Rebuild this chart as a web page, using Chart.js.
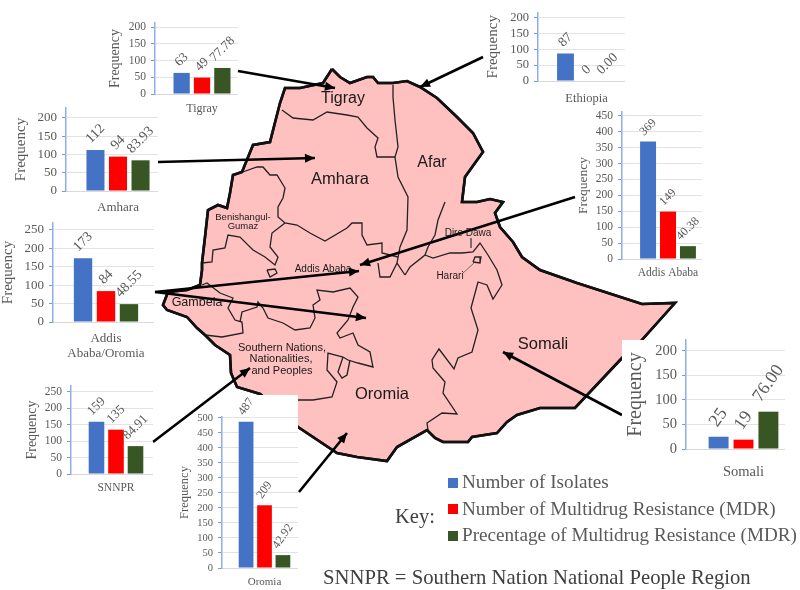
<!DOCTYPE html>
<html>
<head>
<meta charset="utf-8">
<title>Multidrug resistance by region</title>
<script src="https://cdn.jsdelivr.net/npm/chart.js@4"></script>
<style>
  html, body { margin: 0; padding: 0; background: #fff; }
  #page { position: relative; width: 800px; height: 590px; overflow: hidden; }
  #page > div { position: absolute; }
  .patch { background: #fff; }
  .inset { overflow: hidden; }
  .keyText { font-family: "Liberation Serif", serif; font-size: 19.15px; color: #595959; white-space: nowrap; line-height: 22px; }
  .swatch { width: 10px; height: 10px; }
</style>
</head>
<body>
<div id="page">
  <canvas id="mapChart" width="800" height="590" style="position:absolute;left:0;top:0"></canvas>
  <div class="patch" style="left:225px;top:395px;width:73px;height:195px"></div>
  <div class="patch" style="left:622px;top:340px;width:178px;height:135px"></div>
  <div class="keyText" style="left:395px;top:505px;font-size:20.5px;color:#404040">Key:</div>
  <div class="swatch" style="left:448px;top:478px;background:#4472C4"></div>
  <div class="swatch" style="left:448px;top:504px;background:#FF0000"></div>
  <div class="swatch" style="left:448px;top:531px;background:#375623"></div>
  <div class="keyText" style="left:462px;top:471px">Number of Isolates</div>
  <div class="keyText" style="left:462px;top:498px">Number of Multidrug Resistance (MDR)</div>
  <div class="keyText" style="left:462px;top:524px">Precentage of Multidrug Resistance (MDR)</div>
  <div class="keyText" style="left:323px;top:566px;font-size:20.7px;color:#404040">SNNPR = Southern Nation National People Region</div>
</div>
<script>
// Values
var regions = ['Tigray', 'Amhara', ['Addis', 'Ababa/Oromia'], 'SNNPR', 'Oromia', 'Ethiopia', 'Addis Ababa', 'Somali'];
var isolates = [63, 112, 173, 159, 487, 87, 369, 25];
var mdrCounts = [49, 94, 84, 135, 209, 0, 149, 19];
var mdrPercent = [77.78, 83.93, 48.55, 84.91, 42.92, 0.00, 40.38, 76.00];
var tickSteps = [50, 50, 50, 50, 50, 50, 50, 50];
var axisMax = [212, 227, 269, 268, 503, 217, 462, 222];
var seriesNames = ['Number of Isolates', 'Number of Multidrug Resistance (MDR)', 'Precentage of Multidrug Resistance (MDR)'];

// Map shapes
var outline = [[332,69],[340,77],[350,83],[367,77],[373,77],[378,83],[393,83],[407,81],[420,87],[437,98],[457,117],[473,133],[483,152],[475,163],[465,177],[462,202],[477,202],[490,199],[503,202],[495,213],[500,227],[513,242],[522,257],[540,270],[577,283],[642,304],[675,303],[640,342],[622,358],[575,408],[540,408],[517,415],[507,422],[497,433],[472,437],[468,442],[443,442],[435,438],[427,430],[397,447],[387,461],[357,457],[337,453],[298,427],[260,394],[237,387],[231,373],[230,355],[215,345],[205,335],[197,328],[187,317],[167,310],[163,305],[168,292],[187,290],[200,285],[202,270],[202,263],[205,237],[208,210],[218,205],[227,208],[230,193],[233,175],[242,172],[253,145],[270,142],[280,103],[285,88],[300,88],[323,83],[332,69]];
var innerBorders = [
  [[282,110],[293,118],[313,120],[327,112],[347,115],[358,117],[367,128],[378,138],[375,147],[377,157],[395,157]],
  [[393,85],[393,97],[395,120],[398,147],[395,157],[398,177],[408,197],[407,230],[400,247],[397,263],[405,275]],
  [[445,202],[438,220],[435,235],[428,247],[425,255],[410,267],[405,275]],
  [[425,255],[433,258],[450,253],[462,253],[473,252],[480,243],[488,255],[497,270],[502,285],[493,299],[487,285],[478,282],[471,308],[478,330],[472,352],[458,358],[454,369],[439,349],[432,360],[433,368],[445,382],[443,393],[457,414],[442,413],[427,423],[428,430]],
  [[473,262],[475,257],[481,257],[480,263],[473,262]],
  [[240,173],[257,167],[263,167],[270,175],[277,175],[285,188],[283,198],[278,207],[278,217],[285,223],[297,225],[310,233],[325,241],[347,228],[352,223],[362,223],[362,235],[367,245],[382,243],[382,253],[398,257]],
  [[378,263],[380,277],[390,277],[397,263]],
  [[285,223],[272,233],[270,247],[278,257],[275,265],[265,257],[253,250],[240,237],[228,235],[225,248],[213,250],[212,262],[202,263]],
  [[267,270],[275,269],[277,273],[270,277],[267,270]],
  [[202,285],[207,283],[220,293],[233,298],[228,308],[235,320],[242,322],[243,333],[222,337],[205,335]],
  [[240,322],[242,312],[257,307],[258,302],[263,308],[268,318],[283,323],[295,330],[310,328],[315,318],[313,305],[320,300],[317,290],[333,292],[350,288],[358,297],[353,307],[348,320],[337,333],[340,338],[353,333],[358,345],[370,352],[373,367],[358,363],[348,360],[343,357],[328,353],[327,370],[337,382],[332,397],[313,400],[298,400]],
  [[343,357],[338,372],[342,378],[347,375],[350,360]]
];
var leaderLines = [
  [[471,238],[471,248]],
  [[463,273],[474,263]]
];
var arrows = [
  [[238,71],[335,88]],
  [[483,57],[420,87]],
  [[158,162],[315,158]],
  [[575,197],[360,265]],
  [[155,292],[359,271]],
  [[155,292],[366,318]],
  [[153,442],[250,368]],
  [[299,492],[347,433]],
  [[622,415],[503,352]]
];
var mapLabels = [
  ['Tigray', 343, 99, 16], ['Amhara', 340, 179, 16.5], ['Afar', 432, 163, 16],
  ['Benishangul-', 243, 217, 9.5], ['Gumaz', 243, 226, 9.5], ['Addis Ababa', 323, 269, 10],
  ['Gambela', 197, 303, 12.5], ['Southern Nations,', 282, 348, 11], ['Nationalities,', 281, 359, 11],
  ['and Peoples', 282, 371, 11], ['Oromia', 382, 394, 16.5], ['Somali', 543, 344, 16.5],
  ['Dire Dawa', 468, 233, 10], ['Harari', 450, 276, 10]
];

// Where each small panel sits on the page, same order as regions
var panelLayout = [
  { titleX: 116, titleSize: 14, tickSize: 11.5, axisX: 155, plotW: 94, clipR: 238, yTop: 23, y0: 94, labelY: 109, labelSize: 12, valueSize: 13, angle: -45 },
  { titleX: 21, titleSize: 15, tickSize: 13, axisX: 66, plotW: 104, clipR: 158, yTop: 108, y0: 191, labelY: 208, labelSize: 13, valueSize: 14, angle: -45 },
  { titleX: 8, titleSize: 15, tickSize: 13, axisX: 53, plotW: 106, clipR: 154, yTop: 223, y0: 322, labelY: 339, labelSize: 13, valueSize: 14, angle: -45 },
  { titleX: 33, titleSize: 14, tickSize: 11.5, axisX: 71, plotW: 90, clipR: 153, yTop: 386, y0: 474, labelY: 488, labelSize: 11.5, valueSize: 13, angle: -45 },
  { titleX: 185, titleSize: 12.5, tickSize: 10.5, axisX: 222, plotW: 85, clipR: 298, yTop: 417, y0: 568, labelY: 582, labelSize: 11, valueSize: 12, angle: -55 },
  { titleX: 493, titleSize: 15, tickSize: 12.5, axisX: 538, plotW: 97, clipR: 625, yTop: 3, y0: 81, labelY: 99, labelSize: 12.5, valueSize: 13.5, angle: -45 },
  { titleX: 584, titleSize: 13.5, tickSize: 11.5, axisX: 622, plotW: 92, clipR: 702, yTop: 112, y0: 259, labelY: 273, labelSize: 11.5, valueSize: 12, angle: -45 },
  { titleX: 636, titleSize: 20, tickSize: 14.5, axisX: 686, plotW: 115, clipR: 785, yTop: 340, y0: 449, labelY: 473, labelSize: 14.5, valueSize: 18, angle: -55 }
];

var serif = '"Liberation Serif", serif';
var grey = '#595959';
Chart.defaults.animation = false;

function toPoints(pairs) {
  return pairs.map(function(p) { return { x: p[0], y: p[1] }; });
}

function shape(pairs, extra) {
  var ds = { data: toPoints(pairs), showLine: true, pointRadius: 0, tension: 0, clip: false };
  for (var k in extra) ds[k] = extra[k];
  return ds;
}

// Arrow tips and region names on the map
var mapDecor = {
  id: 'mapDecor',
  afterDatasetsDraw: function(chart) {
    var ctx = chart.ctx, sx = chart.scales.x, sy = chart.scales.y;
    ctx.save();
    ctx.fillStyle = '#1a1a1a';
    ctx.textAlign = 'center';
    ctx.textBaseline = 'middle';
    mapLabels.forEach(function(l) {
      ctx.font = l[3] + 'px "Liberation Sans", Arial, sans-serif';
      ctx.fillText(l[0], sx.getPixelForValue(l[1]), sy.getPixelForValue(l[2]));
    });
    ctx.fillStyle = '#000';
    arrows.forEach(function(a) {
      var x0 = sx.getPixelForValue(a[0][0]), y0 = sy.getPixelForValue(a[0][1]);
      var x1 = sx.getPixelForValue(a[1][0]), y1 = sy.getPixelForValue(a[1][1]);
      var t = Math.atan2(y1 - y0, x1 - x0);
      ctx.beginPath();
      ctx.moveTo(x1, y1);
      ctx.lineTo(x1 - 11 * Math.cos(t - 0.42), y1 - 11 * Math.sin(t - 0.42));
      ctx.lineTo(x1 - 11 * Math.cos(t + 0.42), y1 - 11 * Math.sin(t + 0.42));
      ctx.closePath();
      ctx.fill();
    });
    ctx.restore();
  }
};

var mapSets = [shape(outline, { borderColor: '#111', borderWidth: 2.6, backgroundColor: '#FFC0C0', fill: 'shape', order: 5 })];
innerBorders.forEach(function(b) {
  mapSets.push(shape(b, { borderColor: '#222', borderWidth: 1.3, order: 3 }));
});
mapSets.push(shape(outline, { borderColor: '#111', borderWidth: 2.6, order: 2 }));
leaderLines.forEach(function(b) {
  mapSets.push(shape(b, { borderColor: '#555', borderWidth: 0.8, order: 2 }));
});
arrows.forEach(function(a) {
  mapSets.push(shape(a, { borderColor: '#000', borderWidth: 2.6, order: 1 }));
});

new Chart(document.getElementById('mapChart'), {
  type: 'scatter',
  data: { datasets: mapSets },
  options: {
    responsive: false,
    plugins: { legend: { display: false }, tooltip: { enabled: false } },
    scales: {
      x: { type: 'linear', min: 0, max: 800, display: false },
      y: { type: 'linear', min: 0, max: 590, reverse: true, display: false }
    }
  },
  plugins: [mapDecor]
});

// Rotated numbers over the bars
var barNumbers = {
  id: 'barNumbers',
  afterDatasetsDraw: function(chart) {
    var o = chart.options.plugins.barNumbers, ctx = chart.ctx;
    ctx.save();
    ctx.font = o.size + 'px ' + serif;
    ctx.fillStyle = grey;
    ctx.textAlign = 'center';
    ctx.textBaseline = 'middle';
    chart.data.datasets.forEach(function(ds, d) {
      var bar = chart.getDatasetMeta(d).data[0];
      var text = o.texts[d];
      var half = ctx.measureText(text).width / 2;
      var rad = o.angle * Math.PI / 180;
      ctx.save();
      ctx.translate(bar.x, bar.y - half * Math.abs(Math.sin(rad)) - o.size * 0.65);
      ctx.rotate(rad);
      ctx.fillText(text, 0, 0);
      ctx.restore();
    });
    ctx.restore();
  }
};

regions.forEach(function(region, i) {
  var p = panelLayout[i];
  var lines = Array.isArray(region) ? region.length : 1;
  var left = Math.floor(p.titleX - p.titleSize * 0.6);
  var top = Math.max(0, p.yTop - 24);
  var bottom = Math.ceil(p.labelY + 10 + (lines - 1) * p.labelSize * 1.15);
  var box = document.createElement('div');
  box.className = 'inset';
  box.style.left = left + 'px';
  box.style.top = top + 'px';
  box.style.width = (p.clipR - left) + 'px';
  box.style.height = (bottom - top) + 'px';
  var canvas = document.createElement('canvas');
  canvas.width = p.axisX + p.plotW - left;
  canvas.height = bottom - top;
  box.appendChild(canvas);
  document.getElementById('page').appendChild(box);

  new Chart(canvas, {
    type: 'bar',
    data: {
      labels: [region],
      datasets: [
        { label: seriesNames[0], data: [isolates[i]], backgroundColor: '#4472C4' },
        { label: seriesNames[1], data: [mdrCounts[i]], backgroundColor: '#FF0000' },
        { label: seriesNames[2], data: [mdrPercent[i]], backgroundColor: '#375623' }
      ]
    },
    options: {
      responsive: false,
      layout: { padding: { top: p.yTop - top, left: 0, right: 0, bottom: 0 } },
      categoryPercentage: 0.65,
      barPercentage: 0.8,
      plugins: {
        legend: { display: false },
        tooltip: { enabled: false },
        barNumbers: {
          size: p.valueSize,
          angle: p.angle,
          texts: [String(isolates[i]), String(mdrCounts[i]), mdrPercent[i].toFixed(2)]
        }
      },
      scales: {
        x: {
          grid: { display: false, drawTicks: false },
          border: { color: '#d9d9d9' },
          ticks: {
            color: grey,
            maxRotation: 0,
            padding: p.labelY - p.y0 - p.labelSize * 0.6,
            font: { family: serif, size: p.labelSize, lineHeight: 1.15 }
          },
          afterFit: function(s) { s.height = bottom - p.y0; }
        },
        y: {
          min: 0,
          max: axisMax[i],
          grid: { color: '#e3e3e3', tickColor: '#6f9be0', tickLength: 4 },
          border: { color: '#8fb0e6', width: 1.5 },
          ticks: {
            stepSize: tickSteps[i],
            includeBounds: false,
            autoSkip: false,
            color: grey,
            padding: 5,
            font: { family: serif, size: p.tickSize }
          },
          title: {
            display: true,
            text: 'Frequency',
            color: grey,
            padding: 0,
            font: { family: serif, size: p.titleSize }
          },
          afterFit: function(s) { s.width = p.axisX - left; }
        }
      }
    },
    plugins: [barNumbers]
  });
});
</script>
</body>
</html>
